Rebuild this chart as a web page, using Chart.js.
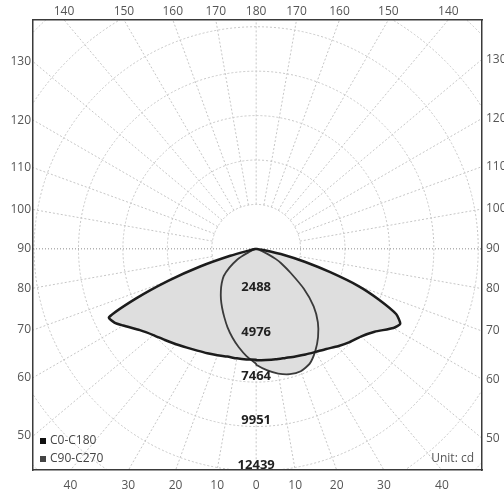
<!DOCTYPE html>
<html>
<head>
<meta charset="utf-8">
<script src="https://cdn.jsdelivr.net/npm/chart.js@4.4.0/dist/chart.umd.min.js"></script>
<style>
html, body { margin: 0; padding: 0; background: #fff; }
</style>
</head>
<body>
<canvas id="mychart" width="504" height="490"></canvas>
<script>
// vertical angle gamma (0 = nadir, 90 = horizontal), degrees
const gamma = [0, 5, 10, 15, 20, 25, 30, 35, 40, 45, 50, 55, 60, 62.5, 65, 67.5, 70, 72.5, 75, 77.5, 80, 90];

// intensities in cd
const c180 = [6220, 6225, 6235, 6254, 6350, 6460, 6590, 6760, 6980, 7230, 7520, 7950, 8600, 8950, 9100, 7300, 5250, 3290, 1500, 300, 60, 0];
const c0 = [6250, 6260, 6290, 6330, 6420, 6540, 6670, 6850, 7130, 7400, 7650, 8100, 8880, 9100, 8650, 7450, 6100, 4350, 2850, 1600, 400, 0];
const c270 = [6450, 6050, 5605, 5146, 4686, 4225, 3816, 3442, 3075, 2729, 2370, 1814, 1250, 850, 500, 280, 150, 80, 40, 20, 10, 0];
const c90 = [6500, 6830, 7100, 7275, 7300, 7100, 6622, 6044, 5378, 4555, 3487, 2364, 1614, 1250, 800, 450, 250, 120, 60, 25, 10, 0];

const seriesNames = ['C0-C180', 'C90-C270'];
const ringValues = [2488, 4976, 7464, 9951, 12439];

// tick labels round the box
const topLabels = ['140', '150', '160', '170', '180', '170', '160', '150', '140'];
const bottomLabels = ['40', '30', '20', '10', '0', '10', '20', '30', '40'];
const sideLabels = ['130', '120', '110', '100', '90', '80', '70', '60', '50'];

const X_MIN = -12500, X_MAX = 12650, Y_MIN = -12400, Y_MAX = 12830;
const rad = d => d * Math.PI / 180;

// left half runs 90 -> 0, right half 0 -> 90
function toPoints(left, right) {
    const pts = [];
    for (let i = gamma.length - 1; i >= 0; i--) {
        pts.push({ x: -left[i] * Math.sin(rad(gamma[i])), y: -left[i] * Math.cos(rad(gamma[i])) });
    }
    for (let i = 0; i < gamma.length; i++) {
        pts.push({ x: right[i] * Math.sin(rad(gamma[i])), y: -right[i] * Math.cos(rad(gamma[i])) });
    }
    return pts;
}

function side(i, n) {
    const mid = (n - 1) / 2;
    return i < mid ? -1 : (i > mid ? 1 : 0);
}

const topTicks = () => topLabels.map((l, i) => side(i, topLabels.length) * Y_MAX * Math.tan(rad(180 - l)));
const bottomTicks = () => bottomLabels.map((l, i) => side(i, bottomLabels.length) * -Y_MIN * Math.tan(rad(l)));
const leftTicks = () => sideLabels.map(l => X_MIN / Math.tan(rad(l)));
const rightTicks = () => sideLabels.map(l => -X_MAX / Math.tan(rad(l)));

function axis(pos, min, max, size, pad, ticksFn, labels) {
    return {
        type: 'linear', position: pos, min: min, max: max,
        grid: { display: false, drawTicks: false },
        border: { display: true, color: '#3a3a3a', width: 1.5 },
        afterFit: s => { if (s.isHorizontal()) s.height = size; else s.width = size; },
        afterBuildTicks: s => { s.ticks = ticksFn().map(v => ({ value: v })); },
        ticks: {
            autoSkip: false, maxRotation: 0, padding: pad, color: '#555',
            font: { family: 'Open Sans', size: 12 },
            callback: (v, i) => labels[i]
        }
    };
}

const polarGrid = {
    id: 'polarGrid',
    beforeDraw(chart) {
        const { ctx, chartArea: a, scales: { x, y } } = chart;
        const cx = x.getPixelForValue(0), cy = y.getPixelForValue(0);
        const pr = v => x.getPixelForValue(v) - cx;
        const step = ringValues[0];
        ctx.save();
        ctx.beginPath();
        ctx.rect(a.left, a.top, a.right - a.left, a.bottom - a.top);
        ctx.clip();
        ctx.strokeStyle = '#c6c6c6';
        ctx.lineWidth = 1;
        ctx.setLineDash([2, 2]);
        for (let k = 1; k <= 7; k++) {
            ctx.beginPath();
            ctx.arc(cx, cy, pr(step * k), 0, 2 * Math.PI);
            ctx.stroke();
        }
        const r0 = pr(step), r1 = pr(step * 8);
        for (let g = 0; g < 360; g += 10) {
            if (g === 90 || g === 270) continue;
            const t = rad(g);
            ctx.beginPath();
            ctx.moveTo(cx + r0 * Math.sin(t), cy + r0 * Math.cos(t));
            ctx.lineTo(cx + r1 * Math.sin(t), cy + r1 * Math.cos(t));
            ctx.stroke();
        }
        // 90 deg line
        ctx.strokeStyle = '#8c8c8c';
        ctx.setLineDash([1, 2]);
        ctx.beginPath();
        ctx.moveTo(a.left, cy);
        ctx.lineTo(a.right, cy);
        ctx.stroke();
        ctx.restore();
    },
    afterDatasetsDraw(chart) {
        const { ctx, chartArea: a, scales: { x, y } } = chart;
        const cx = x.getPixelForValue(0);
        ctx.save();
        // ring values
        ctx.fillStyle = '#222';
        ctx.font = 'bold 13px "Open Sans"';
        ctx.textAlign = 'center';
        ctx.textBaseline = 'alphabetic';
        ringValues.forEach(v => {
            ctx.fillText(String(v), cx, y.getPixelForValue(-v) - 2);
        });
        // legend
        ctx.font = '12px "Open Sans"';
        ctx.textAlign = 'left';
        ctx.textBaseline = 'middle';
        chart.data.datasets.forEach((ds, i) => {
            const ly = a.bottom - 29 + i * 18;
            ctx.fillStyle = ds.swatch;
            ctx.fillRect(a.left + 7, ly - 3, 6, 6);
            ctx.fillStyle = '#444';
            ctx.fillText(ds.label, a.left + 17, ly);
        });
        // unit
        ctx.textAlign = 'right';
        ctx.fillStyle = '#555';
        ctx.fillText('Unit: cd', a.right - 8, a.bottom - 11);
        ctx.restore();
    }
};

var myChart = new Chart(document.getElementById('mychart'), {
    type: 'scatter',
    data: {
        datasets: [{
            label: seriesNames[0],
            data: toPoints(c180, c0),
            showLine: true,
            pointRadius: 0,
            borderColor: '#1c1c1c',
            borderWidth: 2.5,
            backgroundColor: '#dedede',
            fill: 'shape',
            tension: 0.2,
            swatch: '#111'
        }, {
            label: seriesNames[1],
            data: toPoints(c270, c90),
            showLine: true,
            pointRadius: 0,
            borderColor: '#3a3a3a',
            borderWidth: 1.8,
            backgroundColor: '#dedede',
            fill: 'shape',
            tension: 0.2,
            swatch: '#444'
        }]
    },
    options: {
        responsive: false,
        animation: false,
        layout: { padding: 0 },
        plugins: {
            legend: { display: false },
            tooltip: { enabled: false },
            filler: { drawTime: 'beforeDatasetsDraw' }
        },
        scales: {
            x: axis('bottom', X_MIN, X_MAX, 20, 8, bottomTicks, bottomLabels),
            y: axis('left', Y_MIN, Y_MAX, 33, 2, leftTicks, sideLabels),
            xTop: axis('top', X_MIN, X_MAX, 20, 1, topTicks, topLabels),
            yRight: axis('right', Y_MIN, Y_MAX, 22, 4, rightTicks, sideLabels)
        }
    },
    plugins: [polarGrid]
});
</script>
</body>
</html>
